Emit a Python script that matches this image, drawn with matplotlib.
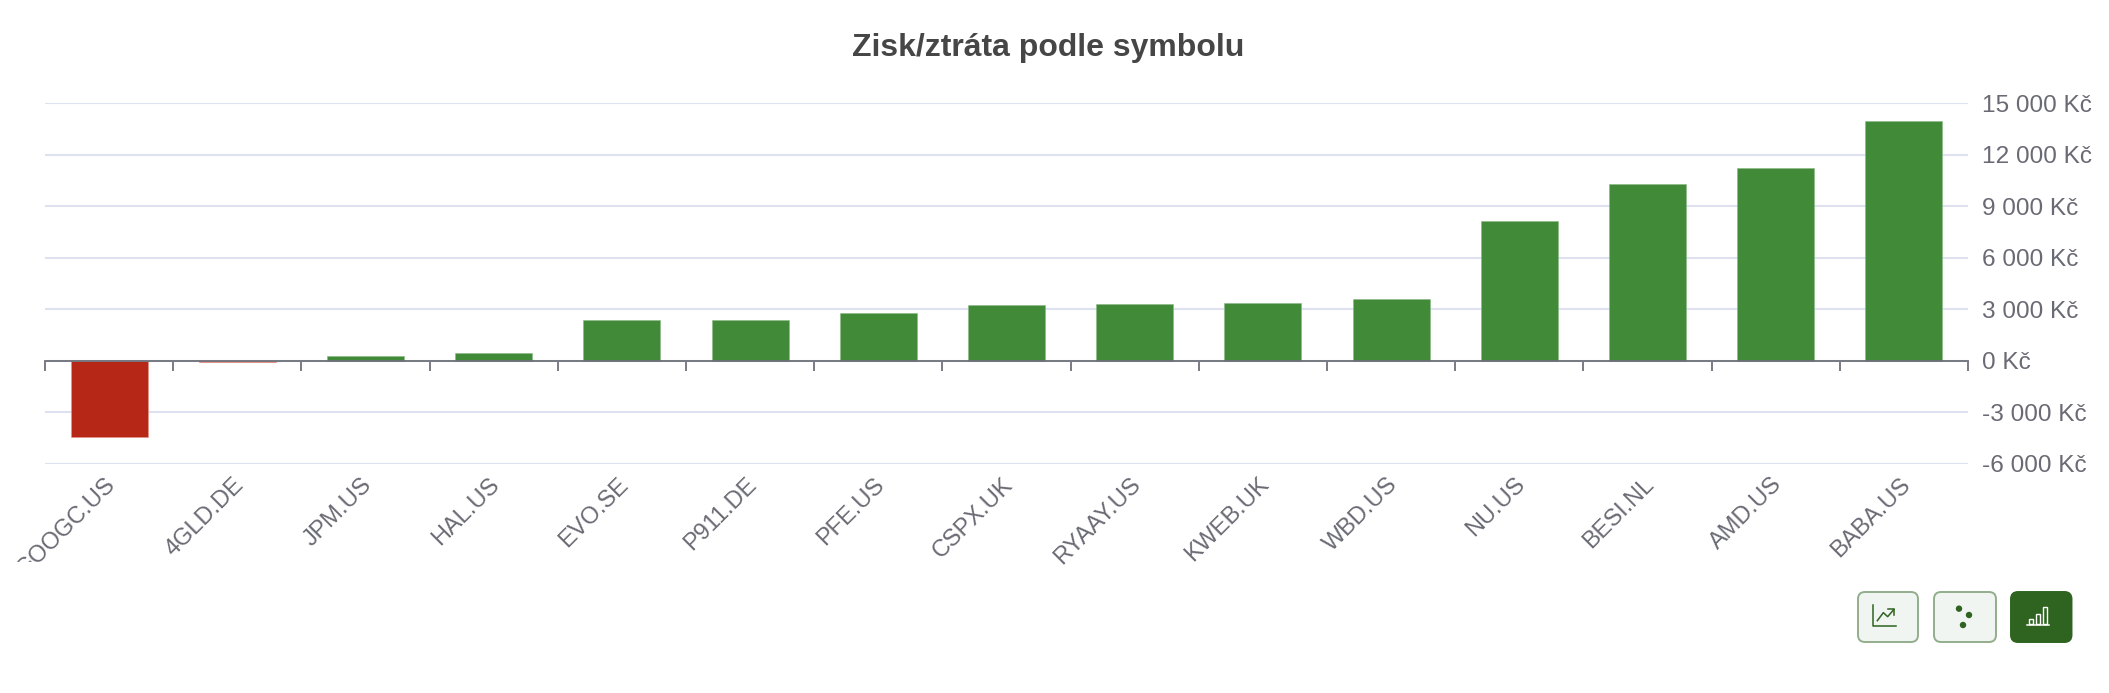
import matplotlib
matplotlib.use("Agg")
import matplotlib.pyplot as plt
from matplotlib.patches import FancyBboxPatch, Circle, Rectangle
from matplotlib.transforms import Bbox

plt.rcParams["font.family"] = ["Liberation Sans", "DejaVu Sans"]

symbols = ["GOOGC.US", "4GLD.DE", "JPM.US", "HAL.US", "EVO.SE", "P911.DE", "PFE.US", "CSPX.UK",
           "RYAAY.US", "KWEB.UK", "WBD.US", "NU.US", "BESI.NL", "AMD.US", "BABA.US"]
profit = [-4450, -90, 290, 470, 2360, 2380, 2790, 3270, 3300, 3350, 3580, 8170, 10270, 11240, 13980]
y_ticks = [-6000, -3000, 0, 3000, 6000, 9000, 12000, 15000]
y_labels = ["-6 000 Kč", "-3 000 Kč", "0 Kč", "3 000 Kč", "6 000 Kč", "9 000 Kč", "12 000 Kč", "15 000 Kč"]

W, H = 2109, 693
GREEN = "#408A38"
RED = "#B72717"
GREY = "#6E7079"

fig = plt.figure(figsize=(W / 100, H / 100), dpi=100, facecolor="white")
ax = fig.add_axes([45 / W, 1 - 463.8 / H, (1968 - 45) / W, (463.8 - 103.3) / H])

colors = [GREEN if v >= 0 else RED for v in profit]
edges = ["#8DB987" if v >= 0 else "#E8958A" for v in profit]
ax.bar(range(len(symbols)), profit, width=0.6, color=colors, edgecolor=edges, linewidth=0.4, zorder=2)

ax.set_xlim(-0.5, len(symbols) - 0.5)
ax.set_ylim(-6000, 15000)
ax.set_yticks(y_ticks)
ax.set_yticklabels(y_labels, fontsize=17.6, color="#6A6A74")
ax.yaxis.tick_right()
ax.tick_params(axis="y", length=0, pad=10)
ax.grid(axis="y", color="#DDE1F0", linewidth=1.5)
ax.set_axisbelow(True)

for name in ["top", "left", "right"]:
    ax.spines[name].set_visible(False)
ax.spines["bottom"].set_position(("data", 0))
ax.spines["bottom"].set_color(GREY)
ax.spines["bottom"].set_linewidth(1.3)
ax.spines["bottom"].set_zorder(3)

# ticks sit between the bars
ax.set_xticks([i - 0.5 for i in range(len(symbols) + 1)])
ax.set_xticklabels([])
ax.tick_params(axis="x", length=7.2, width=1.3, color=GREY)

# symbol labels, the page cuts off the first one
clip = Bbox([[13, H - 562], [W, H]])
for i, s in enumerate(symbols):
    t = ax.annotate(s, xy=(i, -6000), xytext=(2, -12.5), textcoords="offset points", fontsize=17,
                    color="#6A6A74", rotation=45, rotation_mode="anchor", ha="right", va="center",
                    annotation_clip=False)
    if i == 0:
        t.set_clip_box(clip)
        t.set_clip_on(True)

fig.text(1048.5 / W, 1 - 48 / H, "Zisk/ztráta podle symbolu", ha="center", va="center",
         fontsize=23, fontweight="bold", color="#464646")

# buttons under the chart, pixel coordinates
ui = fig.add_axes([0, 0, 1, 1], facecolor="none")
ui.set_xlim(0, W)
ui.set_ylim(H, 0)
ui.axis("off")


def button(x0, x1, face, edge):
    ui.add_patch(FancyBboxPatch((x0 + 5, 592 + 5), x1 - x0 - 10, 50 - 10, boxstyle="round,pad=5,rounding_size=7",
                                facecolor=face, edgecolor=edge, linewidth=1.4))


def zx(v):
    return 1840 + v / 3


def zy(v):
    return 570 + v / 3


DARK = "#2E6420"
button(1858, 1918, "#F1F5F1", "#93AE8C")
button(1934, 1996, "#F1F5F1", "#93AE8C")
button(2011, 2071.5, DARK, DARK)

ui.plot([zx(100), zx(100), zx(167)], [zy(105), zy(169), zy(169)], color=DARK, lw=1.1)
ui.plot([zx(112), zx(130), zx(143), zx(162)], [zy(152), zy(128), zy(140), zy(118)], color=DARK, lw=1.1)
ui.plot([zx(145), zx(162), zx(162)], [zy(118), zy(118), zy(135)], color=DARK, lw=1.1)

for cx, cy in [(357, 116), (387, 135), (369, 165)]:
    ui.add_patch(Circle((zx(cx), zy(cy)), 3.2, color=DARK, lw=0))

for x0, x1, top in [(566, 578, 148), (587, 599, 132), (608, 621, 110)]:
    ui.add_patch(Rectangle((zx(x0), zy(top)), (x1 - x0) / 3, (163 - top) / 3, fill=False, edgecolor="white", lw=1.0))
ui.plot([zx(560), zx(626)], [zy(165), zy(165)], color="white", lw=1.1)

fig.savefig("out.png", dpi=100)
